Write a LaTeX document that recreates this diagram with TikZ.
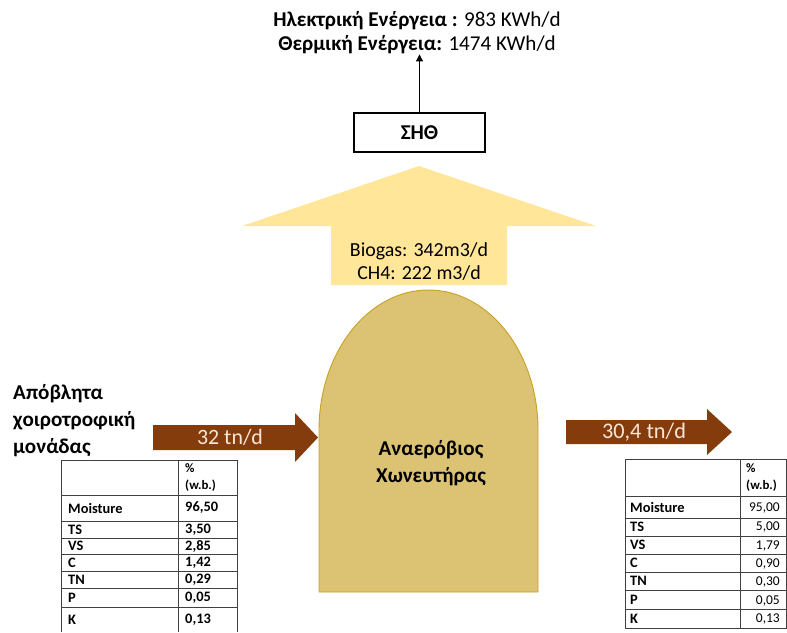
\documentclass[tikz,border=0pt]{standalone}
\usepackage{fontspec}
\setmainfont{Carlito}
\usetikzlibrary{arrows.meta}
\definecolor{brownarrow}{HTML}{843C0C}
\definecolor{gasyellow}{HTML}{FFE699}
\definecolor{digfill}{HTML}{DCC373}
\definecolor{digline}{HTML}{C9A227}
\definecolor{lighttext}{HTML}{FBE5D6}
\definecolor{gridgray}{HTML}{404040}
\begin{document}
\begin{tikzpicture}[x=0.03cm, y=-0.03cm,
  bigtext/.style={font=\fontsize{17}{20}\selectfont, align=center, inner sep=0pt},
  tabtext/.style={font=\fontsize{12.3}{13}\selectfont\bfseries, anchor=west, inner sep=0pt},
  tabval/.style={font=\fontsize{11.5}{12}\selectfont, anchor=east, inner sep=0pt},
  tabline/.style={draw=gridgray, line width=0.6pt}]
\useasboundingbox (0,0) rectangle (787,632);
% CHP output
\node[bigtext, font=\fontsize{18}{20.5}\selectfont] (energy) at (417,33) {\textbf{Ηλεκτρική Ενέργεια :} 983 KWh/d\\\textbf{Θερμική Ενέργεια:} 1474 KWh/d};
\node[draw, line width=2pt, minimum width=3.93cm, minimum height=1.17cm, inner sep=0pt, font=\fontsize{18}{20}\selectfont\bfseries] (chp) at (419.5,132.5) {ΣΗΘ};
\draw[-{Triangle[width=6pt,length=6pt]}, line width=0.8pt] (chp.north) -- (chp.north |- energy.south);
% biogas arrow
\fill[gasyellow] (331,285) -- (331,226) -- (242,226) -- (419,166) -- (596,226) -- (507,226) -- (507,285) -- cycle;
\node[bigtext, font=\fontsize{17}{19.6}\selectfont] (biogas) at (419,261.5) {Biogas: 342m3/d\\CH4: 222 m3/d};
% digester
\filldraw[fill=digfill, draw=digline, line width=0.8pt] (319,592) -- (319,430) arc[start angle=180, end angle=360, x radius=109.5, y radius=140] -- (538,592) -- cycle;
\node[bigtext, font=\fontsize{18}{23}\selectfont\bfseries] (digester) at (431,463.5) {Αναερόβιος\\Χωνευτήρας};
% input
\node[bigtext, align=left, anchor=west, font=\fontsize{18}{23}\selectfont\bfseries] (source) at (13,421) {Απόβλητα\\χοιροτροφική\\μονάδας};
\fill[brownarrow] (153,425) -- (295,425) -- (295,413) -- (318,437.5) -- (295,462) -- (295,450) -- (153,450) -- cycle;
\node[bigtext, text=lighttext, font=\fontsize{18.7}{20}\selectfont] (influent) at (230,437.5) {32 tn/d};
% output
\fill[brownarrow] (566,420) -- (707,420) -- (707,409) -- (732,432) -- (707,455) -- (707,444) -- (566,444) -- cycle;
\node[bigtext, text=lighttext, font=\fontsize{19}{20}\selectfont] (effluent) at (644,432) {30,4 tn/d};
% input table
\draw[tabline] (61,632) -- (61,460) -- (237,460) -- (237,632);
\draw[tabline] (178,460) -- (178,632);
\draw[tabline] (61,495) -- (237,495);
\draw[tabline] (61,521) -- (237,521);
\draw[tabline] (61,538) -- (237,538);
\draw[tabline] (61,554) -- (237,554);
\draw[tabline] (61,571) -- (237,571);
\draw[tabline] (61,588) -- (237,588);
\draw[tabline] (61,607) -- (237,607);
\node[tabtext, align=left, font=\fontsize{11}{14.5}\selectfont\bfseries] (lhead) at (185,478) {\%\\(w.b.)};
\node[tabtext] (lmoist) at (68,508) {Moisture};
\node[tabtext] (lts) at (68,529.5) {TS};
\node[tabtext] (lvs) at (68,546) {VS};
\node[tabtext] (lc) at (68,562.5) {C};
\node[tabtext] (ltn) at (68,579.5) {TN};
\node[tabtext] (lp) at (68,597.5) {P};
\node[tabtext] (lk) at (68,619.5) {K};
\node[tabtext] (lmoistv) at (185,508) {96,50};
\node[tabtext] (ltsv) at (185,529.5) {3,50};
\node[tabtext] (lvsv) at (185,546) {2,85};
\node[tabtext] (lcv) at (185,562.5) {1,42};
\node[tabtext] (ltnv) at (185,579.5) {0,29};
\node[tabtext] (lpv) at (185,597.5) {0,05};
\node[tabtext] (lkv) at (185,619.5) {0,13};
% output table
\draw[tabline] (625,628) rectangle (786.5,459);
\draw[tabline] (740,459) -- (740,628);
\draw[tabline] (625,496) -- (786.5,496);
\draw[tabline] (625,518) -- (786.5,518);
\draw[tabline] (625,536) -- (786.5,536);
\draw[tabline] (625,554) -- (786.5,554);
\draw[tabline] (625,572) -- (786.5,572);
\draw[tabline] (625,590) -- (786.5,590);
\draw[tabline] (625,609) -- (786.5,609);
\node[tabtext, align=left, font=\fontsize{11}{14.5}\selectfont\bfseries] (rhead) at (746,478) {\%\\(w.b.)};
\node[tabtext] (rmoist) at (630,507) {Moisture};
\node[tabtext] (rts) at (630,527) {TS};
\node[tabtext] (rvs) at (630,545) {VS};
\node[tabtext] (rc) at (630,563) {C};
\node[tabtext] (rtn) at (630,581) {TN};
\node[tabtext] (rp) at (630,599.5) {P};
\node[tabtext] (rk) at (630,618.5) {K};
\node[tabval] (rmoistv) at (780,508) {95,00};
\node[tabval] (rtsv) at (780,527) {5,00};
\node[tabval] (rvsv) at (780,546) {1,79};
\node[tabval] (rcv) at (780,564) {0,90};
\node[tabval] (rtnv) at (780,582) {0,30};
\node[tabval] (rpv) at (780,600.5) {0,05};
\node[tabval] (rkv) at (780,619) {0,13};
\end{tikzpicture}
\end{document}
